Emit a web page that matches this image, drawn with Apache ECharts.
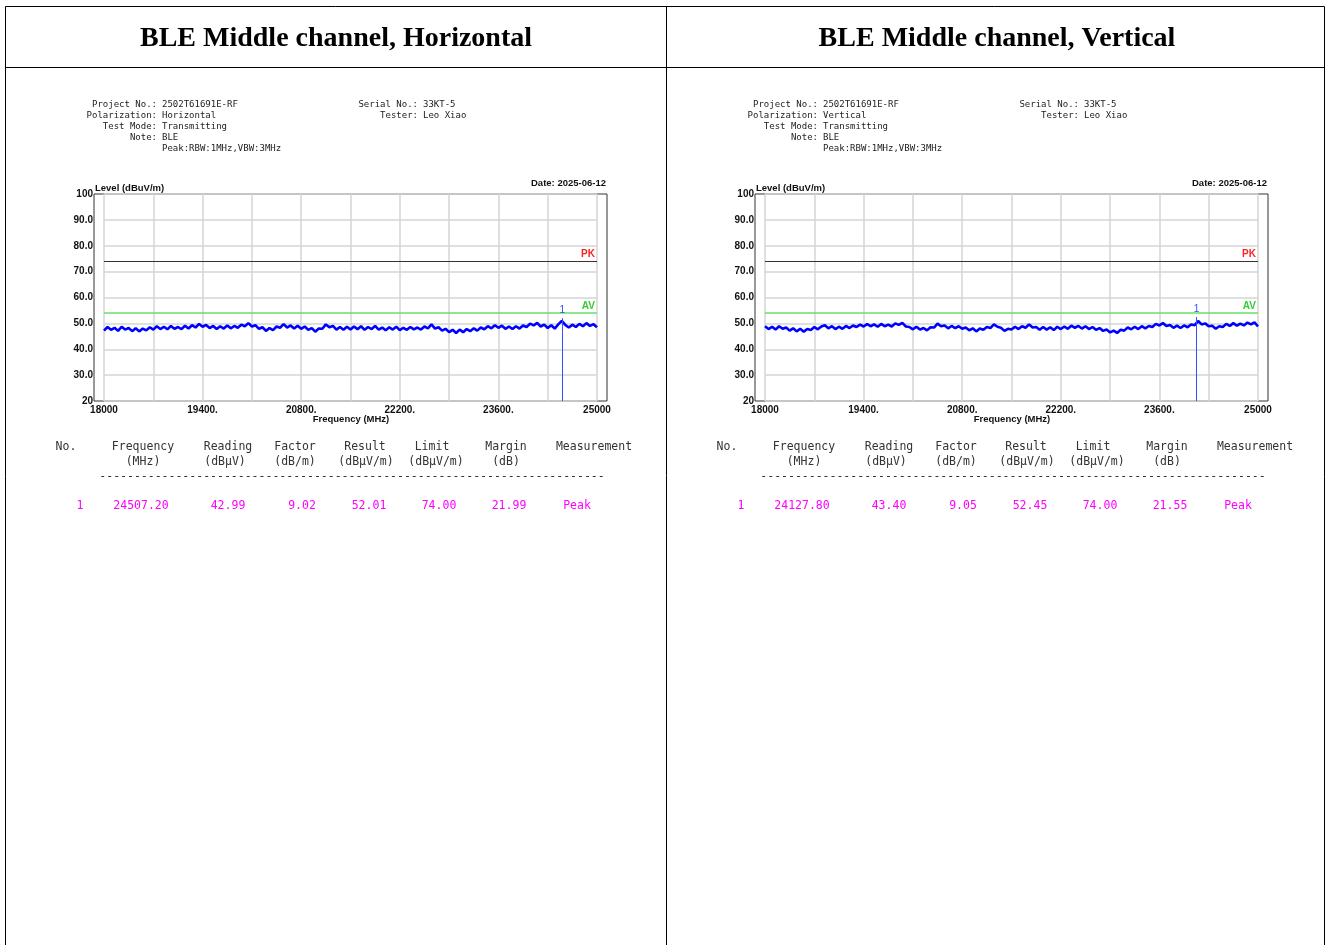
<!DOCTYPE html>
<html>
<head>
<meta charset="utf-8">
<title>BLE Middle channel</title>
<script src="https://cdn.jsdelivr.net/npm/echarts/dist/echarts.min.js"></script>
<style>
  html, body { margin: 0; padding: 0; background: #fff; }
  #main { width: 1326px; height: 945px; }
</style>
</head>
<body>
<div id="main"></div>
<script>
// ---- data ----
const titles = ['BLE Middle channel, Horizontal', 'BLE Middle channel, Vertical']
const infoLabels = ['Project No.:', 'Polarization:', 'Test Mode:', 'Note:', '']
const infoValuesH = ['2502T61691E-RF', 'Horizontal', 'Transmitting', 'BLE', 'Peak:RBW:1MHz,VBW:3MHz']
const infoValuesV = ['2502T61691E-RF', 'Vertical', 'Transmitting', 'BLE', 'Peak:RBW:1MHz,VBW:3MHz']
const infoLabels2 = ['Serial No.:', 'Tester:']
const infoValues2 = ['33KT-5', 'Leo Xiao']
const testDate = '2025-06-12'

// sweep 18000..25000 MHz, one reading per 50 MHz
const freqStart = 18000
const freqStep = 50
const levelH = [
    47.2, 48.6, 47.5, 48.3, 47.1, 48.7, 47.6, 48.2, 47.0, 48.1,
    46.9, 48.0, 47.3, 48.5, 47.6, 48.9, 47.8, 48.7, 47.7, 49.0,
    47.9, 48.6, 47.8, 49.1, 48.0, 49.3, 48.4, 49.8, 48.7, 49.4,
    48.2, 49.0, 47.8, 48.9, 48.0, 49.2, 48.1, 49.0, 48.3, 49.5,
    48.9, 50.1, 48.8, 49.3, 47.9, 48.5, 47.1, 48.2, 47.4, 48.8,
    48.3, 49.7, 48.4, 49.2, 48.0, 49.1, 47.9, 48.8, 47.5, 48.2,
    46.8, 48.0, 47.9, 49.6, 48.5, 49.0, 47.6, 48.6, 47.5, 48.7,
    47.6, 48.8, 47.7, 48.9, 47.5, 48.6, 47.8, 49.0, 47.6, 48.4,
    47.3, 48.5, 47.6, 48.7, 47.4, 48.3, 47.5, 48.6, 47.7, 48.4,
    47.6, 48.8, 48.1, 49.6, 48.0, 48.5, 47.2, 47.9, 46.6, 47.5,
    46.3, 47.6, 46.6, 47.8, 47.0, 48.1, 47.2, 48.4, 47.7, 48.9,
    48.1, 49.3, 48.3, 49.1, 47.9, 48.8, 47.8, 48.9, 48.0, 49.2,
    48.6, 49.9, 49.2, 50.2, 48.8, 49.5, 48.2, 49.3, 48.0, 49.6,
    51.0, 49.4, 48.4, 49.5, 48.6, 49.8, 48.9, 50.1, 49.0, 49.7,
    48.5
]
const levelV = [
    48.9, 47.8, 48.7, 47.6, 48.9, 47.9, 48.4, 47.2, 48.1, 46.9,
    47.9, 46.8, 47.8, 47.4, 48.6, 47.7, 48.8, 49.3, 48.1, 48.9,
    47.8, 48.7, 47.9, 49.0, 48.2, 49.2, 48.6, 49.5, 48.8, 49.7,
    48.9, 49.6, 48.7, 49.8, 48.9, 49.5, 48.8, 50.0, 49.4, 50.2,
    48.8, 48.6, 47.7, 48.7, 47.6, 48.2, 47.3, 48.5, 48.4, 49.9,
    48.9, 49.2, 48.1, 49.0, 48.2, 48.9, 47.9, 48.4, 47.3, 48.1,
    46.9, 48.0, 47.5, 48.6, 48.2, 49.6, 48.7, 48.3, 47.1, 47.9,
    47.6, 48.7, 47.8, 48.9, 48.3, 49.6, 48.4, 48.6, 47.5, 48.6,
    47.6, 48.5, 47.4, 48.7, 47.8, 48.8, 47.9, 49.1, 48.3, 49.0,
    48.0, 48.9, 47.8, 48.6, 47.5, 48.2, 47.1, 47.6, 46.5, 47.2,
    46.3, 47.5, 47.2, 48.4, 47.7, 48.7, 47.8, 48.9, 48.1, 49.0,
    48.6, 49.8, 49.2, 50.1, 49.0, 49.4, 48.3, 49.1, 48.2, 49.2,
    48.5, 49.6, 49.3, 50.9, 49.6, 50.0, 48.9, 49.1, 47.9, 48.9,
    48.6, 49.8, 49.0, 50.1, 49.1, 49.9, 49.2, 50.3, 49.6, 50.4,
    48.8
]
const pkLimit = 74
const avLimit = 54
const markerFreq = [24507.20, 24127.80]
const markerResult = [52.01, 52.45]

const tableHead = ['No.', 'Frequency', 'Reading', 'Factor', 'Result', 'Limit', 'Margin', 'Measurement']
const tableUnit = ['', '(MHz)', '(dBμV)', '(dB/m)', '(dBμV/m)', '(dBμV/m)', '(dB)', '']
const rowH = ['1', '24507.20', '42.99', '9.02', '52.01', '74.00', '21.99', 'Peak']
const rowV = ['1', '24127.80', '43.40', '9.05', '52.45', '74.00', '21.55', 'Peak']

// ---- layout ----
const panelDx = 661
const headX = [66, 143, 228, 295, 365, 432, 506, 594]
const unitX = [66, 143, 225, 295, 366, 436, 506, 594]
const rowX = [80, 141, 228, 302, 369, 439, 509, 577]
const mono = '"DejaVu Sans Mono", "Liberation Mono", monospace'
const sans = '"Liberation Sans", Arial, sans-serif'

let chartDom = document.getElementById('main')
let myChart = echarts.init(chartDom)

const panels = [
    { info: infoValuesH, level: levelH, row: rowH },
    { info: infoValuesV, level: levelV, row: rowV }
]

let graphic = []
// report table borders
graphic.push({ type: 'rect', shape: { x: 5.5, y: 6.5, width: 1319, height: 960 }, style: { fill: null, stroke: '#000', lineWidth: 1 } })
graphic.push({ type: 'line', shape: { x1: 5, y1: 67.5, x2: 1325, y2: 67.5 }, style: { stroke: '#000', lineWidth: 1 } })
graphic.push({ type: 'line', shape: { x1: 666.5, y1: 6, x2: 666.5, y2: 945 }, style: { stroke: '#000', lineWidth: 1 } })

let grid = [], xAxis = [], yAxis = [], series = []

panels.forEach((p, k) => {
    const dx = k * panelDx
    graphic.push({
        type: 'text', x: 336 + dx, y: 39,
        style: { text: titles[k], font: 'bold 28px "Liberation Serif", "Times New Roman", serif', fill: '#000', textAlign: 'center', textVerticalAlign: 'middle' }
    })
    infoLabels.forEach((lab, i) => {
        graphic.push({ type: 'text', x: 157 + dx, y: 105 + i * 11, style: { text: lab, font: '9px ' + mono, fill: '#222', textAlign: 'right', textVerticalAlign: 'middle' } })
        graphic.push({ type: 'text', x: 162 + dx, y: 105 + i * 11, style: { text: p.info[i], font: '9px ' + mono, fill: '#222', textAlign: 'left', textVerticalAlign: 'middle' } })
    })
    infoLabels2.forEach((lab, i) => {
        graphic.push({ type: 'text', x: 418 + dx, y: 105 + i * 11, style: { text: lab, font: '9px ' + mono, fill: '#222', textAlign: 'right', textVerticalAlign: 'middle' } })
        graphic.push({ type: 'text', x: 423 + dx, y: 105 + i * 11, style: { text: infoValues2[i], font: '9px ' + mono, fill: '#222', textAlign: 'left', textVerticalAlign: 'middle' } })
    })
    graphic.push({ type: 'text', x: 606 + dx, y: 183, style: { text: 'Date: ' + testDate, font: 'bold 9.5px ' + sans, fill: '#111', textAlign: 'right', textVerticalAlign: 'middle' } })
    graphic.push({ type: 'text', x: 95 + dx, y: 188, style: { text: 'Level (dBuV/m)', font: 'bold 9.5px ' + sans, fill: '#111', textAlign: 'left', textVerticalAlign: 'middle' } })
    graphic.push({ type: 'text', x: 351 + dx, y: 419, style: { text: 'Frequency (MHz)', font: 'bold 9.5px ' + sans, fill: '#111', textAlign: 'center', textVerticalAlign: 'middle' } })

    // result table
    tableHead.forEach((t, i) => {
        graphic.push({ type: 'text', x: headX[i] + dx, y: 447, style: { text: t, font: '11.5px ' + mono, fill: '#333', textAlign: 'center', textVerticalAlign: 'middle' } })
        if (tableUnit[i]) {
            graphic.push({ type: 'text', x: unitX[i] + dx, y: 462, style: { text: tableUnit[i], font: '11.5px ' + mono, fill: '#333', textAlign: 'center', textVerticalAlign: 'middle' } })
        }
        graphic.push({ type: 'text', x: rowX[i] + dx, y: 506, style: { text: p.row[i], font: '11.5px ' + mono, fill: '#ff00ff', textAlign: 'center', textVerticalAlign: 'middle' } })
    })
    graphic.push({ type: 'text', x: 352 + dx, y: 477, style: { text: '-'.repeat(73), font: '11.5px ' + mono, fill: '#333', textAlign: 'center', textVerticalAlign: 'middle' } })

    // frame grid (slightly wider than the sweep) and data grid
    const g0 = grid.length
    grid.push({ left: 94 + dx, top: 194, width: 513, height: 207, show: true, borderColor: '#333', borderWidth: 1, backgroundColor: 'transparent' })
    grid.push({ left: 104 + dx, top: 194, width: 493, height: 207 })
    xAxis.push({ type: 'value', gridIndex: g0, show: false, min: 0, max: 1 })
    yAxis.push({ type: 'value', gridIndex: g0, show: false, min: 0, max: 1 })
    xAxis.push({
        type: 'value', gridIndex: g0 + 1, min: 18000, max: 25000, interval: 700,
        axisLine: { show: false }, axisTick: { show: false },
        splitLine: { show: true, lineStyle: { color: '#d4d4d4', width: 1.5 } },
        axisLabel: {
            margin: 4, color: '#111', fontWeight: 'bold', fontSize: 10, fontFamily: sans,
            showMinLabel: true, showMaxLabel: true,
            formatter: v => ((v - 18000) % 1400 !== 0) ? '' : (v === 18000 || v === 25000 ? String(v) : v + '.')
        }
    })
    yAxis.push({
        type: 'value', gridIndex: g0 + 1, min: 20, max: 100, interval: 10,
        axisLine: { show: false }, axisTick: { show: false },
        splitLine: { show: true, lineStyle: { color: '#d4d4d4', width: 1.5 } },
        axisLabel: {
            margin: 11, color: '#111', fontWeight: 'bold', fontSize: 10, fontFamily: sans,
            showMinLabel: true, showMaxLabel: true,
            formatter: v => (v === 100 || v === 20) ? String(v) : v.toFixed(1)
        }
    })
    const xi = xAxis.length - 1
    series.push({
        type: 'line', xAxisIndex: xi, yAxisIndex: xi,
        data: p.level.map((v, i) => [freqStart + i * freqStep, v]),
        symbol: 'none', lineStyle: { color: '#0000ff', width: 2.6 }, z: 3,
        markLine: {
            silent: true, symbol: ['none', 'none'], animation: false,
            data: [
                { yAxis: pkLimit, lineStyle: { color: '#333', width: 1, type: 'solid' },
                  label: { formatter: 'PK', position: 'insideEndTop', color: '#ff2020', fontWeight: 'bold', fontSize: 10, fontFamily: sans, distance: [2, 2] } },
                { yAxis: avLimit, lineStyle: { color: '#66e066', width: 1.5, type: 'solid' },
                  label: { formatter: 'AV', position: 'insideEndTop', color: '#33cc33', fontWeight: 'bold', fontSize: 10, fontFamily: sans, distance: [2, 2] } },
                [
                    { coord: [markerFreq[k], 20], lineStyle: { color: '#3050ff', width: 1, type: 'solid' },
                      label: { formatter: '1', position: 'end', color: '#3050ff', fontSize: 10, fontFamily: sans, distance: 3 } },
                    { coord: [markerFreq[k], markerResult[k]] }
                ]
            ]
        }
    })
})

let option = {
    animation: false,
    backgroundColor: '#fff',
    grid: grid,
    xAxis: xAxis,
    yAxis: yAxis,
    series: series,
    graphic: graphic
}
option && myChart.setOption(option)
</script>
</body>
</html>
